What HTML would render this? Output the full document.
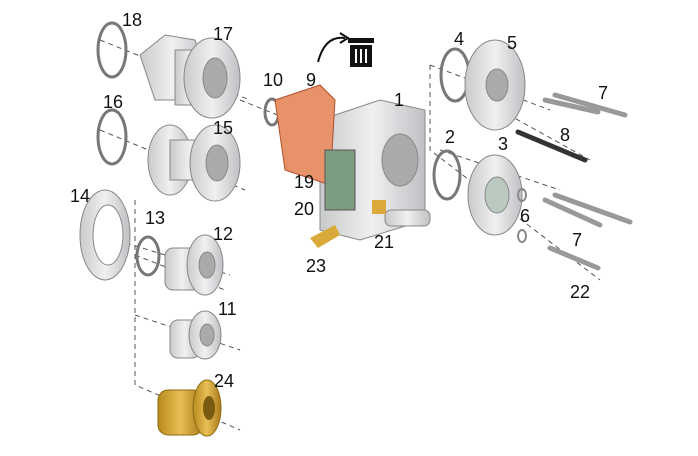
<!DOCTYPE html>
<html><head><style>
html,body{margin:0;padding:0;background:#fff;width:698px;height:456px;overflow:hidden}
svg text{font-family:"Liberation Sans",sans-serif;font-size:18px;fill:#111}
</style></head><body>
<svg width="698" height="456" viewBox="0 0 698 456" xmlns="http://www.w3.org/2000/svg">
<defs>
<linearGradient id="g" x1="0" x2="1"><stop offset="0" stop-color="#c9cacc"/><stop offset="0.5" stop-color="#f0f0f2"/><stop offset="1" stop-color="#bfc0c3"/></linearGradient>
<linearGradient id="gold" x1="0" x2="1"><stop offset="0" stop-color="#b88a1e"/><stop offset="0.5" stop-color="#e8bf55"/><stop offset="1" stop-color="#a8791a"/></linearGradient>
</defs>
<g stroke="#555" stroke-width="1" fill="none" stroke-dasharray="5,4">
<path d="M100 40 L250 100"/><path d="M100 130 L245 190"/><path d="M135 200 L135 385 L240 430"/>
<path d="M135 255 L225 290"/><path d="M135 315 L240 350"/><path d="M240 100 L290 120 L330 130"/>
<path d="M430 65 L430 150 L600 280"/><path d="M430 65 L550 110"/><path d="M440 150 L560 190"/>
<path d="M100 235 L230 275"/><path d="M500 110 L590 160"/>
</g>
<!-- o-rings -->
<g fill="none" stroke="#777" stroke-width="3">
<ellipse cx="112" cy="50" rx="14" ry="27"/><ellipse cx="112" cy="137" rx="14" ry="27"/>
<ellipse cx="148" cy="256" rx="11" ry="19"/><ellipse cx="272" cy="112" rx="7" ry="13"/>
<ellipse cx="455" cy="75" rx="14" ry="26"/><ellipse cx="447" cy="175" rx="13" ry="24"/>
</g>
<!-- 17 -->
<g stroke="#888" fill="url(#g)">
<path d="M140 55 L165 35 L195 40 L205 70 L190 100 L155 100 Z"/>
<rect x="175" y="50" width="30" height="55"/>
<ellipse cx="212" cy="78" rx="28" ry="40"/>
<ellipse cx="215" cy="78" rx="12" ry="20" fill="#aaa"/>
<!-- 15 -->
<ellipse cx="170" cy="160" rx="22" ry="35"/><rect x="170" y="140" width="40" height="40"/>
<ellipse cx="215" cy="163" rx="25" ry="38"/><ellipse cx="217" cy="163" rx="11" ry="18" fill="#aaa"/>
<!-- 14 -->
<ellipse cx="105" cy="235" rx="25" ry="45"/><ellipse cx="108" cy="235" rx="15" ry="30" fill="#fff"/>
<!-- 12 -->
<rect x="165" y="248" width="35" height="42" rx="8"/><ellipse cx="205" cy="265" rx="18" ry="30"/><ellipse cx="207" cy="265" rx="8" ry="13" fill="#aaa"/>
<!-- 11 -->
<rect x="170" y="320" width="30" height="38" rx="8"/><ellipse cx="205" cy="335" rx="16" ry="24"/><ellipse cx="207" cy="335" rx="7" ry="11" fill="#aaa"/>
<!-- block 1 -->
<path d="M320 120 L380 100 L425 110 L425 220 L360 240 L320 230 Z"/>
<ellipse cx="400" cy="160" rx="18" ry="26" fill="#aaa"/>
<!-- 5,3 plates -->
<ellipse cx="495" cy="85" rx="30" ry="45"/><ellipse cx="497" cy="85" rx="11" ry="16" fill="#aaa"/>
<ellipse cx="495" cy="195" rx="27" ry="40"/><ellipse cx="497" cy="195" rx="12" ry="18" fill="#b9c9c0"/>
<!-- 21 -->
<rect x="385" y="210" width="45" height="16" rx="6"/>
</g>
<!-- 24 gold -->
<rect x="158" y="390" width="45" height="45" rx="10" fill="url(#gold)" stroke="#8a6a10"/>
<ellipse cx="207" cy="408" rx="14" ry="28" fill="url(#gold)" stroke="#8a6a10"/>
<ellipse cx="209" cy="408" rx="6" ry="12" fill="#7a5a10"/>
<!-- gasket 9 -->
<path d="M275 100 L320 85 L335 100 L330 185 L285 170 Z" fill="#e8926a" stroke="#b0502a"/>
<rect x="325" y="150" width="30" height="60" fill="#7d9d80" stroke="#555"/>
<!-- fittings -->
<rect x="372" y="200" width="14" height="14" fill="#d9a93a"/>
<path d="M310 238 L335 225 L340 235 L318 248 Z" fill="#d9a93a"/>
<!-- bolts -->
<g stroke="#999" stroke-width="5" stroke-linecap="round">
<line x1="545" y1="100" x2="598" y2="112"/><line x1="555" y1="95" x2="625" y2="115"/>
<line x1="545" y1="200" x2="600" y2="225"/><line x1="555" y1="195" x2="630" y2="222"/>
<line x1="550" y1="248" x2="598" y2="268"/>
</g>
<line x1="518" y1="132" x2="585" y2="160" stroke="#333" stroke-width="5" stroke-linecap="round"/>
<g fill="none" stroke="#888" stroke-width="2"><ellipse cx="522" cy="195" rx="4" ry="6"/><ellipse cx="522" cy="236" rx="4" ry="6"/></g>
<!-- trash icon -->
<path d="M318 62 Q325 35 345 38" fill="none" stroke="#111" stroke-width="2"/>
<path d="M340 33 L348 38 L340 43" fill="none" stroke="#111" stroke-width="2"/>
<rect x="350" y="45" width="22" height="22" fill="#111"/>
<rect x="348" y="38" width="26" height="5" fill="#111"/>
<g stroke="#fff" stroke-width="2"><line x1="356" y1="49" x2="356" y2="63"/><line x1="361" y1="49" x2="361" y2="63"/><line x1="366" y1="49" x2="366" y2="63"/></g>
<!-- labels -->
<text x="122" y="26">18</text><text x="213" y="40">17</text><text x="103" y="108">16</text>
<text x="213" y="134">15</text><text x="70" y="202">14</text><text x="145" y="224">13</text>
<text x="213" y="240">12</text><text x="218" y="315">11</text><text x="214" y="387">24</text>
<text x="263" y="86">10</text><text x="306" y="86">9</text><text x="394" y="106">1</text>
<text x="445" y="143">2</text><text x="498" y="150">3</text><text x="454" y="45">4</text>
<text x="507" y="49">5</text><text x="598" y="99">7</text><text x="560" y="141">8</text>
<text x="520" y="222">6</text><text x="572" y="246">7</text><text x="570" y="298">22</text>
<text x="294" y="188">19</text><text x="294" y="215">20</text><text x="374" y="248">21</text>
<text x="306" y="272">23</text>
</svg>
</body></html>
